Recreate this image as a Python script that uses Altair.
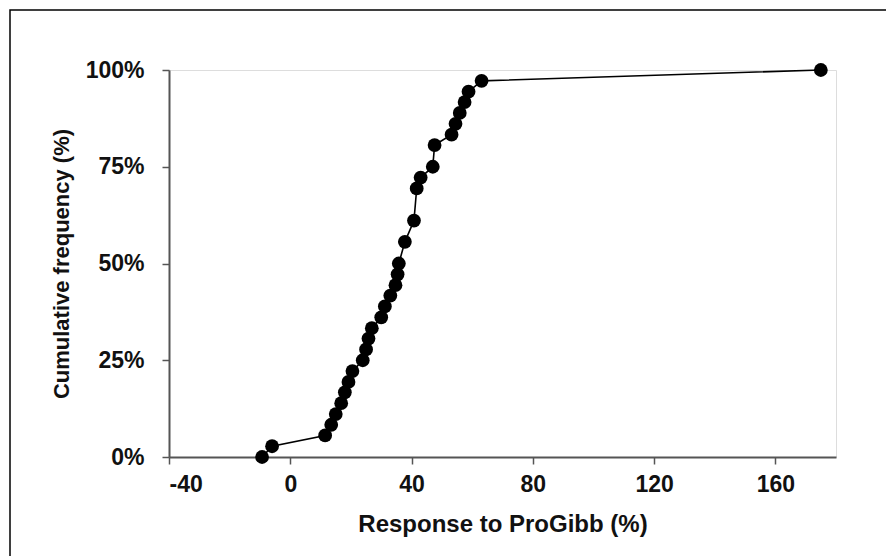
import altair as alt
import pandas as pd

response = [-9.3, -6.0, 11.5, 13.5, 15.0, 16.8, 18.0, 19.2, 20.5, 23.9, 25.0, 25.8,
            26.9, 30.0, 31.2, 33.0, 34.7, 35.4, 35.8, 37.8, 40.8, 41.7, 43.0, 47.0,
            47.6, 53.2, 54.5, 55.9, 57.5, 58.8, 63.1, 175.0]
cumfreq = [0.0, 0.0278, 0.0556, 0.0833, 0.111, 0.139, 0.167, 0.194, 0.222, 0.25,
           0.278, 0.306, 0.333, 0.361, 0.389, 0.417, 0.444, 0.472, 0.5, 0.556,
           0.611, 0.694, 0.722, 0.75, 0.806, 0.833, 0.861, 0.889, 0.917, 0.944,
           0.972, 1.0]
x_ticks = [-40, 0, 40, 80, 120, 160]
y_ticks = [0, 0.25, 0.5, 0.75, 1.0]

df = pd.DataFrame({"x": response, "y": cumfreq, "order": list(range(len(response)))})

FONT = "Liberation Sans"
axis_style = dict(
    grid=False, domainColor="#555555", domainWidth=2, tickColor="#555555", tickSize=7,
    tickWidth=1.5, labelFont=FONT, labelFontSize=23, labelFontWeight="bold",
    labelColor="#111111", titleFont=FONT, titleFontWeight="bold",
    titleColor="#111111",
)

xenc = alt.X("x:Q", scale=alt.Scale(domain=[-40, 180], nice=False, zero=False),
             axis=alt.Axis(values=x_ticks, title="Response to ProGibb (%)",
                           labelExpr="'' + datum.value", titleFontSize=24,
                           labelPadding=9, titlePadding=16, **axis_style))
yenc = alt.Y("y:Q", scale=alt.Scale(domain=[0, 1], nice=False),
             axis=alt.Axis(values=y_ticks, format=".0%", title="Cumulative frequency (%)",
                           titleFontSize=22, labelPadding=18, titlePadding=12, **axis_style))

base = alt.Chart(df)
line = base.mark_line(color="black", strokeWidth=1.6).encode(x=xenc, y=yenc, order="order:Q")
pts = base.mark_circle(color="black", size=190, opacity=1).encode(x="x:Q", y="y:Q")

frame = alt.Chart(pd.DataFrame({"a": [0]})).mark_rect(
    fillOpacity=0, stroke="black", strokeWidth=1.5, clip=False
).encode(x=alt.value(-159), x2=alt.value(740), y=alt.value(-60), y2=alt.value(520))

chart = alt.layer(frame, line, pts).properties(
    width=667, height=387,
    autosize=alt.AutoSizeParams(type="none"),
    padding={"left": 169, "top": 70, "right": 50, "bottom": 99},
).configure_view(
    stroke="#b5b5b5", strokeWidth=2
).configure(background="white")

chart.save("out.html", embed_options={"renderer": "svg", "actions": False})
